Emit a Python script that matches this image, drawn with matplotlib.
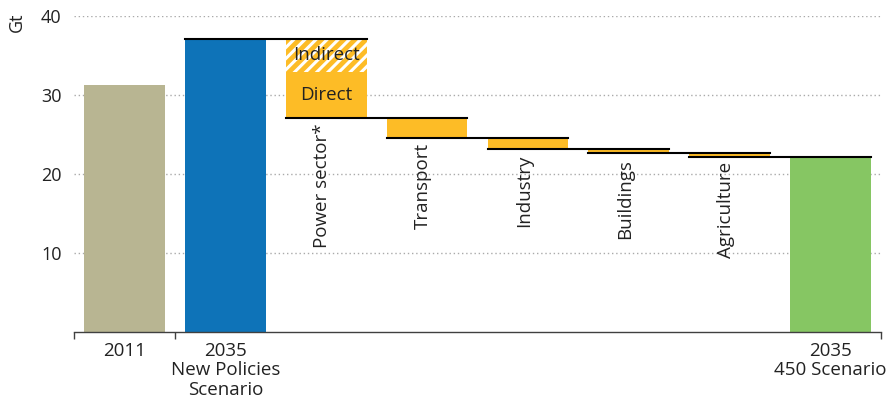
import matplotlib
matplotlib.use("Agg")
import matplotlib.pyplot as plt
from matplotlib.ticker import FixedLocator

plt.rcParams['font.family'] = ['Open Sans', 'DejaVu Sans']
plt.rcParams['hatch.linewidth'] = 2.2

# Data
cat_labels = ["2011", "2035\nNew Policies\nScenario", "", "", "", "", "", "2035\n450 Scenario"]
total_2011 = 31.3
total_nps = 37.1
total_450 = 22.1
sectors = ["Power sector*", "Transport", "Industry", "Buildings", "Agriculture"]
sector_reduction = [10.0, 2.5, 1.4, 0.6, 0.4]
power_indirect = 4.2
power_direct = 5.8
y_ticks = [10, 20, 30, 40]

c_2011 = "#B8B592"
c_nps = "#0E73B8"
c_sec = "#FDBC26"
c_450 = "#86C663"

fig = plt.figure(figsize=(8.89, 4.05), dpi=100)
ax = fig.add_axes([74/889, 1-332/405, (881-74)/889, (332-16)/405])

w = 0.8
ax.bar(0, total_2011, width=w, color=c_2011, zorder=2)
ax.bar(1, total_nps, width=w, color=c_nps, zorder=2)
ax.bar(7, total_450, width=w, color=c_450, zorder=2)

level = total_nps
ax.plot([1 - w/2, 2 + w/2], [level, level], color="black", lw=1.5, zorder=4)

for i, (name, red) in enumerate(zip(sectors, sector_reduction)):
    x = 2 + i
    bottom = level - red
    if i == 0:
        ax.bar(x, power_direct, bottom=bottom, width=w, color=c_sec, zorder=2, lw=0)
        ax.bar(x, power_indirect, bottom=bottom + power_direct, width=w, color=c_sec,
               hatch="///", edgecolor="white", lw=0, zorder=2)
        ax.text(x, bottom + power_direct + power_indirect/2, "Indirect", ha="center", va="center",
                fontsize=13.5, color="#222222", zorder=5)
        ax.text(x, bottom + power_direct/2, "Direct", ha="center", va="center",
                fontsize=13.5, color="#222222", zorder=5)
    else:
        ax.bar(x, red, bottom=bottom, width=w, color=c_sec, zorder=2, lw=0)
    ax.plot([x - w/2, x + 1 + w/2], [bottom, bottom], color="black", lw=1.5, zorder=4)
    ax.annotate(name, xy=(x, bottom), xytext=(-3, -4), textcoords="offset points",
                rotation=90, ha="center", va="top", fontsize=13.5, color="#222222")
    level = bottom

ax.set_xlim(-0.5, 7.5)
ax.set_ylim(0, 40)

ax.set_yticks(y_ticks)
ax.tick_params(axis="y", length=0, labelsize=13, labelcolor="#222222", pad=9)
ax.yaxis.grid(True, linestyle=(0, (1, 2)), color="#AAAAAA", lw=1, zorder=0)
ax.set_axisbelow(True)

ax.set_xticks(range(8))
ax.set_xticklabels(cat_labels, fontsize=13.5, color="#222222", linespacing=1.1)
ax.tick_params(axis="x", which="major", length=0, pad=7)
ax.xaxis.set_minor_locator(FixedLocator([-0.5, 0.5, 7.5]))
ax.tick_params(axis="x", which="minor", length=5, width=1, color="#404040", direction="out")

for s in ["top", "right", "left"]:
    ax.spines[s].set_visible(False)
ax.spines["bottom"].set_color("#404040")
ax.spines["bottom"].set_linewidth(1)

fig.text(17/889, 1-22/405, "Gt", rotation=90, ha="center", va="center", fontsize=13, color="#222222")

fig.savefig("out.png", dpi=100)
